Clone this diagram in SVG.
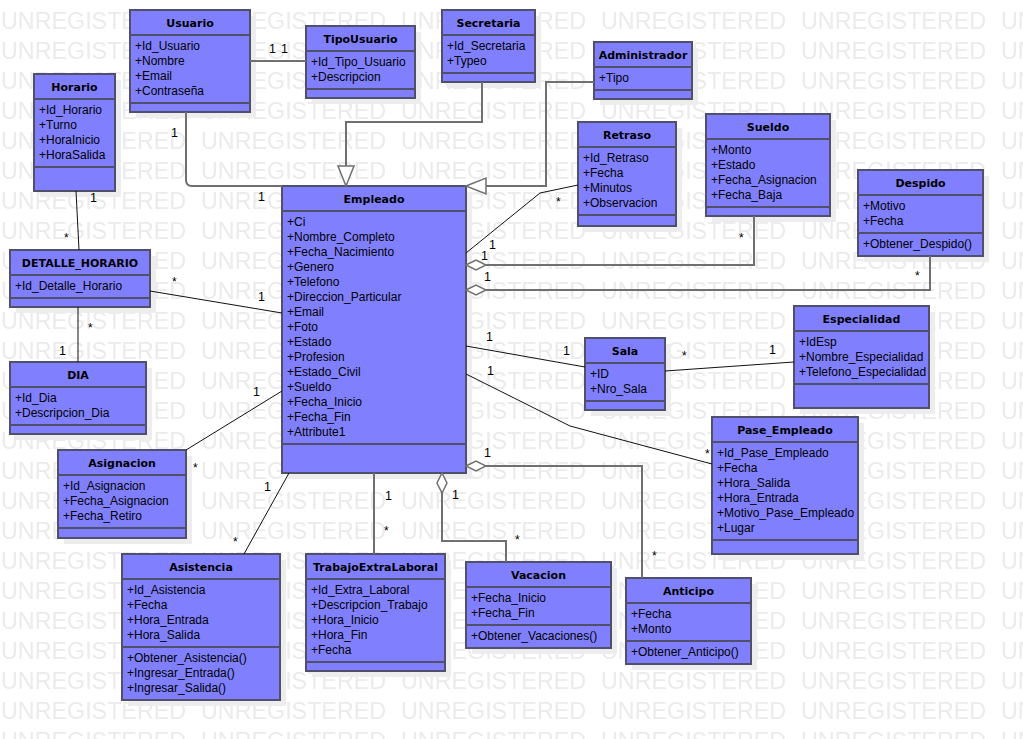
<svg xmlns="http://www.w3.org/2000/svg" width="1023" height="739" viewBox="0 0 1023 739">
<defs>
<style>
.wm{font-family:"Liberation Sans",Arial,sans-serif;font-size:23.3px;fill:#ebebeb}
.sh{fill:#ededed}
.bx{fill:#8080ff;stroke:#50506a;stroke-width:2}
.ln{stroke:#50506a;stroke-width:2}
.hd{font-family:"DejaVu Sans",Verdana,sans-serif;font-weight:bold;font-size:11px;fill:#000;text-anchor:middle}
.at{font-family:"Liberation Sans",Arial,sans-serif;font-size:12px;fill:#000}
.lb{font-family:"Liberation Sans",Arial,sans-serif;font-size:12.5px;fill:#000}
.as{font-family:"Liberation Sans",Arial,sans-serif;font-size:12px;fill:#000}
.c1{fill:none;stroke:#111;stroke-width:1}
.c2{fill:none;stroke:#707070;stroke-width:2}
.dm{fill:#fff;stroke:#707070;stroke-width:1.5}
</style>
<pattern id="wmp" patternUnits="userSpaceOnUse" x="0" y="0" width="200" height="30">
<text class="wm" x="1" y="29">UNREGISTERED</text>
</pattern>
</defs>
<rect width="1023" height="739" fill="#fff"/>
<rect width="1023" height="739" fill="url(#wmp)"/>

<g id="Usuario">
<rect class="sh" x="136" y="16" width="120" height="102"/>
<rect class="bx" x="130" y="10" width="120" height="102"/>
<line class="ln" x1="130" y1="35" x2="250" y2="35"/><line class="ln" x1="130" y1="103" x2="250" y2="103"/>
<text class="hd" x="190" y="27">Usuario</text>
<text class="at" x="135" y="50">+Id_Usuario</text><text class="at" x="135" y="65">+Nombre</text><text class="at" x="135" y="80">+Email</text><text class="at" x="135" y="95">+Contraseña</text>
</g>
<g id="Horario">
<rect class="sh" x="40" y="80" width="81" height="117"/>
<rect class="bx" x="34" y="74" width="81" height="117"/>
<line class="ln" x1="34" y1="99" x2="115" y2="99"/><line class="ln" x1="34" y1="167" x2="115" y2="167"/>
<text class="hd" x="74.5" y="91">Horario</text>
<text class="at" x="39" y="114">+Id_Horario</text><text class="at" x="39" y="129">+Turno</text><text class="at" x="39" y="144">+HoraInicio</text><text class="at" x="39" y="159">+HoraSalida</text>
</g>
<g id="TipoUsuario">
<rect class="sh" x="312" y="32" width="109" height="72"/>
<rect class="bx" x="306" y="26" width="109" height="72"/>
<line class="ln" x1="306" y1="51" x2="415" y2="51"/><line class="ln" x1="306" y1="89" x2="415" y2="89"/>
<text class="hd" x="360.5" y="43">TipoUsuario</text>
<text class="at" x="311" y="66">+Id_Tipo_Usuario</text><text class="at" x="311" y="81">+Descripcion</text>
</g>
<g id="Secretaria">
<rect class="sh" x="448" y="16" width="93" height="72"/>
<rect class="bx" x="442" y="10" width="93" height="72"/>
<line class="ln" x1="442" y1="35" x2="535" y2="35"/><line class="ln" x1="442" y1="73" x2="535" y2="73"/>
<text class="hd" x="488.5" y="27">Secretaria</text>
<text class="at" x="447" y="50">+Id_Secretaria</text><text class="at" x="447" y="65">+Typeo</text>
</g>
<g id="Administrador">
<rect class="sh" x="600" y="48" width="98" height="57"/>
<rect class="bx" x="594" y="42" width="98" height="57"/>
<line class="ln" x1="594" y1="67" x2="692" y2="67"/><line class="ln" x1="594" y1="90" x2="692" y2="90"/>
<text class="hd" x="643" y="59">Administrador</text>
<text class="at" x="599" y="82">+Tipo</text>
</g>
<g id="Retraso">
<rect class="sh" x="584" y="128" width="98" height="104"/>
<rect class="bx" x="578" y="122" width="98" height="104"/>
<line class="ln" x1="578" y1="147" x2="676" y2="147"/><line class="ln" x1="578" y1="215" x2="676" y2="215"/>
<text class="hd" x="627" y="139">Retraso</text>
<text class="at" x="583" y="162">+Id_Retraso</text><text class="at" x="583" y="177">+Fecha</text><text class="at" x="583" y="192">+Minutos</text><text class="at" x="583" y="207">+Observacion</text>
</g>
<g id="Sueldo">
<rect class="sh" x="712" y="120" width="124" height="102"/>
<rect class="bx" x="706" y="114" width="124" height="102"/>
<line class="ln" x1="706" y1="139" x2="830" y2="139"/><line class="ln" x1="706" y1="207" x2="830" y2="207"/>
<text class="hd" x="768" y="131">Sueldo</text>
<text class="at" x="711" y="154">+Monto</text><text class="at" x="711" y="169">+Estado</text><text class="at" x="711" y="184">+Fecha_Asignacion</text><text class="at" x="711" y="199">+Fecha_Baja</text>
</g>
<g id="Despido">
<rect class="sh" x="864" y="176" width="125" height="86"/>
<rect class="bx" x="858" y="170" width="125" height="86"/>
<line class="ln" x1="858" y1="195" x2="983" y2="195"/><line class="ln" x1="858" y1="233" x2="983" y2="233"/>
<text class="hd" x="920.5" y="187">Despido</text>
<text class="at" x="863" y="210">+Motivo</text><text class="at" x="863" y="225">+Fecha</text>
<text class="at" x="863" y="248">+Obtener_Despido()</text>
</g>
<g id="DETALLE_HORARIO">
<rect class="sh" x="16" y="256" width="140" height="57"/>
<rect class="bx" x="10" y="250" width="140" height="57"/>
<line class="ln" x1="10" y1="275" x2="150" y2="275"/><line class="ln" x1="10" y1="298" x2="150" y2="298"/>
<text class="hd" x="80" y="267">DETALLE_HORARIO</text>
<text class="at" x="15" y="290">+Id_Detalle_Horario</text>
</g>
<g id="DIA">
<rect class="sh" x="16" y="368" width="136" height="72"/>
<rect class="bx" x="10" y="362" width="136" height="72"/>
<line class="ln" x1="10" y1="387" x2="146" y2="387"/><line class="ln" x1="10" y1="425" x2="146" y2="425"/>
<text class="hd" x="78" y="379">DIA</text>
<text class="at" x="15" y="402">+Id_Dia</text><text class="at" x="15" y="417">+Descripcion_Dia</text>
</g>
<g id="Empleado">
<rect class="sh" x="288" y="192" width="184" height="287"/>
<rect class="bx" x="282" y="186" width="184" height="287"/>
<line class="ln" x1="282" y1="211" x2="466" y2="211"/><line class="ln" x1="282" y1="444" x2="466" y2="444"/>
<text class="hd" x="374" y="203">Empleado</text>
<text class="at" x="287" y="226">+Ci</text>
<text class="at" x="287" y="241">+Nombre_Completo</text>
<text class="at" x="287" y="256">+Fecha_Nacimiento</text>
<text class="at" x="287" y="271">+Genero</text>
<text class="at" x="287" y="286">+Telefono</text>
<text class="at" x="287" y="301">+Direccion_Particular</text>
<text class="at" x="287" y="316">+Email</text>
<text class="at" x="287" y="331">+Foto</text>
<text class="at" x="287" y="346">+Estado</text>
<text class="at" x="287" y="361">+Profesion</text>
<text class="at" x="287" y="376">+Estado_Civil</text>
<text class="at" x="287" y="391">+Sueldo</text>
<text class="at" x="287" y="406">+Fecha_Inicio</text>
<text class="at" x="287" y="421">+Fecha_Fin</text>
<text class="at" x="287" y="436">+Attribute1</text>
</g>
<g id="Sala">
<rect class="sh" x="591" y="344" width="80" height="72"/>
<rect class="bx" x="585" y="338" width="80" height="72"/>
<line class="ln" x1="585" y1="363" x2="665" y2="363"/><line class="ln" x1="585" y1="401" x2="665" y2="401"/>
<text class="hd" x="625" y="355">Sala</text>
<text class="at" x="590" y="378">+ID</text><text class="at" x="590" y="393">+Nro_Sala</text>
</g>
<g id="Especialidad">
<rect class="sh" x="800" y="312" width="135" height="102"/>
<rect class="bx" x="794" y="306" width="135" height="102"/>
<line class="ln" x1="794" y1="331" x2="929" y2="331"/><line class="ln" x1="794" y1="384" x2="929" y2="384"/>
<text class="hd" x="861.5" y="323">Especialidad</text>
<text class="at" x="799" y="346">+IdEsp</text><text class="at" x="799" y="361">+Nombre_Especialidad</text><text class="at" x="799" y="376">+Telefono_Especialidad</text>
</g>
<g id="Pase_Empleado">
<rect class="sh" x="718" y="423" width="146" height="137"/>
<rect class="bx" x="712" y="417" width="146" height="137"/>
<line class="ln" x1="712" y1="442" x2="858" y2="442"/><line class="ln" x1="712" y1="540" x2="858" y2="540"/>
<text class="hd" x="785" y="434">Pase_Empleado</text>
<text class="at" x="717" y="457">+Id_Pase_Empleado</text><text class="at" x="717" y="472">+Fecha</text><text class="at" x="717" y="487">+Hora_Salida</text><text class="at" x="717" y="502">+Hora_Entrada</text><text class="at" x="717" y="517">+Motivo_Pase_Empleado</text><text class="at" x="717" y="532">+Lugar</text>
</g>
<g id="Asignacion">
<rect class="sh" x="64" y="456" width="128" height="88"/>
<rect class="bx" x="58" y="450" width="128" height="88"/>
<line class="ln" x1="58" y1="475" x2="186" y2="475"/><line class="ln" x1="58" y1="528" x2="186" y2="528"/>
<text class="hd" x="122" y="467">Asignacion</text>
<text class="at" x="63" y="490">+Id_Asignacion</text><text class="at" x="63" y="505">+Fecha_Asignacion</text><text class="at" x="63" y="520">+Fecha_Retiro</text>
</g>
<g id="Asistencia">
<rect class="sh" x="128" y="560" width="158" height="146"/>
<rect class="bx" x="122" y="554" width="158" height="146"/>
<line class="ln" x1="122" y1="579" x2="280" y2="579"/><line class="ln" x1="122" y1="647" x2="280" y2="647"/>
<text class="hd" x="201" y="571">Asistencia</text>
<text class="at" x="127" y="594">+Id_Asistencia</text><text class="at" x="127" y="609">+Fecha</text><text class="at" x="127" y="624">+Hora_Entrada</text><text class="at" x="127" y="639">+Hora_Salida</text>
<text class="at" x="127" y="662">+Obtener_Asistencia()</text><text class="at" x="127" y="677">+Ingresar_Entrada()</text><text class="at" x="127" y="692">+Ingresar_Salida()</text>
</g>
<g id="TrabajoExtraLaboral">
<rect class="sh" x="312" y="560" width="139" height="117"/>
<rect class="bx" x="306" y="554" width="139" height="117"/>
<line class="ln" x1="306" y1="579" x2="445" y2="579"/><line class="ln" x1="306" y1="662" x2="445" y2="662"/>
<text class="hd" x="375.5" y="571">TrabajoExtraLaboral</text>
<text class="at" x="311" y="594">+Id_Extra_Laboral</text><text class="at" x="311" y="609">+Descripcion_Trabajo</text><text class="at" x="311" y="624">+Hora_Inicio</text><text class="at" x="311" y="639">+Hora_Fin</text><text class="at" x="311" y="654">+Fecha</text>
</g>
<g id="Vacacion">
<rect class="sh" x="472" y="568" width="145" height="86"/>
<rect class="bx" x="466" y="562" width="145" height="86"/>
<line class="ln" x1="466" y1="587" x2="611" y2="587"/><line class="ln" x1="466" y1="625" x2="611" y2="625"/>
<text class="hd" x="538.5" y="579">Vacacion</text>
<text class="at" x="471" y="602">+Fecha_Inicio</text><text class="at" x="471" y="617">+Fecha_Fin</text>
<text class="at" x="471" y="640">+Obtener_Vacaciones()</text>
</g>
<g id="Anticipo">
<rect class="sh" x="632" y="584" width="125" height="86"/>
<rect class="bx" x="626" y="578" width="125" height="86"/>
<line class="ln" x1="626" y1="603" x2="751" y2="603"/><line class="ln" x1="626" y1="641" x2="751" y2="641"/>
<text class="hd" x="688.5" y="595">Anticipo</text>
<text class="at" x="631" y="618">+Fecha</text><text class="at" x="631" y="633">+Monto</text>
<text class="at" x="631" y="656">+Obtener_Anticipo()</text>
</g>

<g id="connectors">
<path class="c2" d="M250,61 H306"/>
<text class="lb" x="269" y="53">1</text><text class="lb" x="281" y="53">1</text>
<path class="c2" d="M186,112 V180 Q186,186 192,186 H282"/>
<text class="lb" x="171" y="137">1</text><text class="lb" x="258" y="201">1</text>
<path class="c2" d="M482,82 V122 H346 V166"/>
<polygon class="dm" points="346,186 338,166 354,166"/>
<path class="c2" d="M594,82 H546 V186 H486"/>
<polygon class="dm" points="466,186 486,178 486,194"/>
<path class="c1" d="M466,253 L540,193 L578,185"/>
<text class="as" x="556" y="206">*</text><text class="lb" x="489" y="249">1</text>
<path class="c2" d="M486,265 H754 V216"/>
<polygon class="dm" points="466,265 476,260 486,265 476,270"/>
<text class="lb" x="481" y="260">1</text><text class="as" x="739" y="242">*</text>
<path class="c2" d="M486,290 H930 V256"/>
<polygon class="dm" points="466,290 476,285 486,290 476,295"/>
<text class="lb" x="484" y="281">1</text><text class="as" x="915" y="280">*</text>
<path class="c1" d="M150,291 L282,313"/>
<text class="as" x="172" y="286">*</text><text class="lb" x="258" y="301">1</text>
<path class="c1" d="M76,191 L79,250"/>
<text class="lb" x="90" y="202">1</text><text class="as" x="64" y="242">*</text>
<path class="c1" d="M78,307 V362"/>
<text class="as" x="88" y="332">*</text><text class="lb" x="59" y="355">1</text>
<path class="c1" d="M186,450 L282,391"/>
<text class="lb" x="253" y="396">1</text><text class="as" x="193" y="472">*</text>
<path class="c1" d="M244,554 L289,473"/>
<text class="lb" x="264" y="491">1</text><text class="as" x="233" y="546">*</text>
<path class="c2" d="M374,473 V554"/>
<text class="lb" x="385" y="500">1</text><text class="as" x="384" y="535">*</text>
<path class="c2" d="M442,493 V541 H506 V562"/>
<polygon class="dm" points="442,473 447,483 442,493 437,483"/>
<text class="lb" x="452" y="499">1</text><text class="as" x="515" y="544">*</text>
<path class="c2" d="M486,466 H642 V578"/>
<polygon class="dm" points="466,466 476,461 486,466 476,471"/>
<text class="lb" x="484" y="457">1</text><text class="as" x="652" y="560">*</text>
<path class="c1" d="M466,346 L585,367"/>
<text class="lb" x="486" y="341">1</text><text class="lb" x="563" y="355">1</text>
<path class="c1" d="M665,371 L794,362"/>
<text class="as" x="682" y="360">*</text><text class="lb" x="769" y="354">1</text>
<path class="c1" d="M466,374 L570,426 L712,464"/>
<text class="lb" x="487" y="375">1</text><text class="as" x="705" y="458">*</text>
</g>
</svg>
